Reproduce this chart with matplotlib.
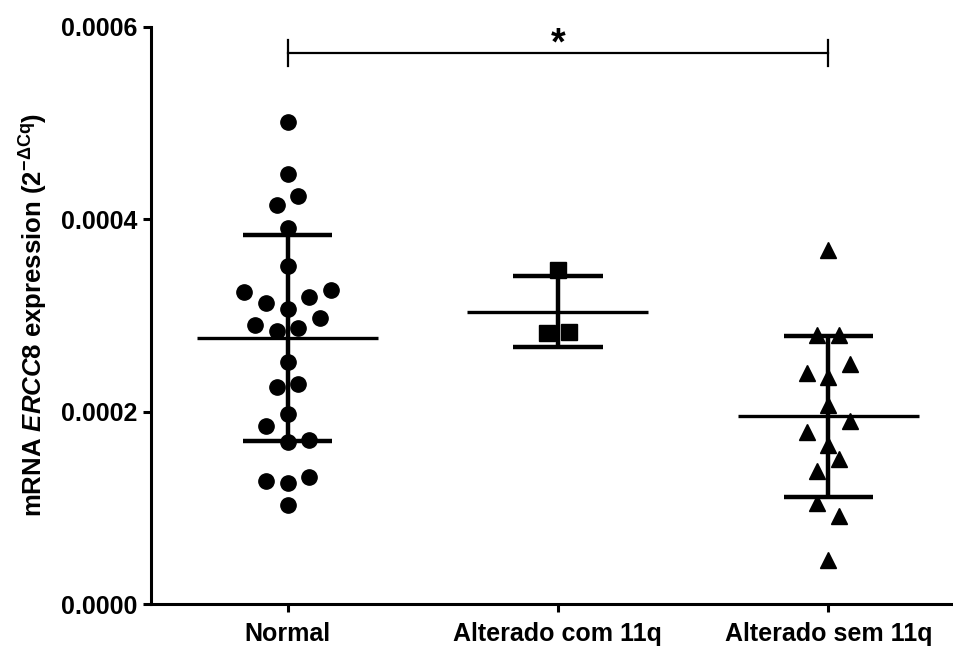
import matplotlib
matplotlib.use("Agg")
import matplotlib.pyplot as plt
import numpy as np

# -------------------------------------------------------------
# Data
# -------------------------------------------------------------
groups = ["Normal", "Alterado com 11q", "Alterado sem 11q"]

normal = [0.000501, 0.000447, 0.000424, 0.000415, 0.000391, 0.000351,
          0.000324, 0.000327, 0.000313, 0.000319, 0.000307, 0.000290,
          0.000297, 0.000284, 0.000287, 0.000252, 0.000226, 0.000229,
          0.000198, 0.000185, 0.000168, 0.000171, 0.000128, 0.000126,
          0.000132, 0.000103]
com_11q = [0.000347, 0.000282, 0.000283]
sem_11q = [0.000368, 0.000280, 0.000280, 0.000250, 0.000240, 0.000236,
           0.000207, 0.000190, 0.000179, 0.000165, 0.000151, 0.000138,
           0.000105, 0.000092, 0.000046]

# horizontal slot of each point in the scatter (same order as values)
normal_slot = [0, 0, 1, -1, 0, 0, -4, 4, -2, 2, 0, -3, 3, -1, 1,
               0, -1, 1, 0, -2, 0, 2, -2, 0, 2, 0]
com_11q_slot = [0, -1, 1]
sem_11q_slot = [0, -1, 1, 2, -2, 0, 0, 2, -2, 0, 1, -1, -1, 1, 0]

y_ticks = [0.0, 0.0002, 0.0004, 0.0006]
sig_label = "*"

# -------------------------------------------------------------
# Plot
# -------------------------------------------------------------
plt.rcParams["font.family"] = ["Liberation Sans", "DejaVu Sans"]
plt.rcParams["font.weight"] = "bold"
plt.rcParams["mathtext.fontset"] = "custom"
plt.rcParams["mathtext.rm"] = "Liberation Sans:bold"
plt.rcParams["mathtext.it"] = "Liberation Sans:italic:bold"
plt.rcParams["mathtext.bf"] = "Liberation Sans:bold"

fig = plt.figure(figsize=(9.54, 6.48), dpi=100)
ax = fig.add_axes([151 / 954, 1 - 604 / 648, 1 - 151 / 954, (604 - 27) / 648])

slot_w = 0.04
series = [
    (normal, normal_slot, "o", 11),
    (com_11q, com_11q_slot, "s", 12),
    (sem_11q, sem_11q_slot, "^", 11.5),
]

for i, (vals, slots, mk, ms) in enumerate(series):
    vals = np.array(vals)
    xs = i + np.array(slots) * slot_w
    ax.plot(xs, vals, linestyle="none", marker=mk, markersize=ms,
            color="black", clip_on=False, zorder=3)

    m = vals.mean()
    sd = vals.std(ddof=1)
    # mean line
    ax.plot([i - 0.335, i + 0.335], [m, m], color="black", lw=2.4,
            solid_capstyle="butt", zorder=4)
    # SD bar + caps
    ax.plot([i, i], [m - sd, m + sd], color="black", lw=3.2,
            solid_capstyle="butt", zorder=4)
    for yy in (m - sd, m + sd):
        ax.plot([i - 0.165, i + 0.165], [yy, yy], color="black", lw=3.2,
                solid_capstyle="butt", zorder=4)

# significance bracket Normal vs Alterado sem 11q
y_br = 0.000573
tick_h = 0.000014
ax.plot([0, 2], [y_br, y_br], color="black", lw=1.6, clip_on=False)
for xb in (0, 2):
    ax.plot([xb, xb], [y_br - tick_h, y_br + tick_h], color="black",
            lw=1.6, clip_on=False)
ax.text(1, y_br - 0.0000095, sig_label, ha="center", va="bottom",
        fontsize=27, fontweight="bold")

ax.set_xlim(-0.505, 2.465)
ax.set_ylim(0, 0.0006)
ax.set_xticks(range(len(groups)))
ax.set_xticklabels(groups)
ax.set_yticks(y_ticks)
ax.set_yticklabels([f"{v:.4f}" for v in y_ticks])

ax.spines["top"].set_visible(False)
ax.spines["right"].set_visible(False)
ax.spines["left"].set_linewidth(2.2)
ax.spines["bottom"].set_linewidth(2.2)
ax.tick_params(axis="both", length=6, width=2.2, labelsize=18)
ax.tick_params(axis="y", pad=4)
ax.tick_params(axis="x", pad=7)

ax.set_ylabel(r"mRNA $\mathit{ERCC8}$ expression (2$^{\mathrm{-\Delta Cq}}$)",
              fontsize=18.5, fontweight="bold", labelpad=8)

fig.savefig("out.png", dpi=100)
